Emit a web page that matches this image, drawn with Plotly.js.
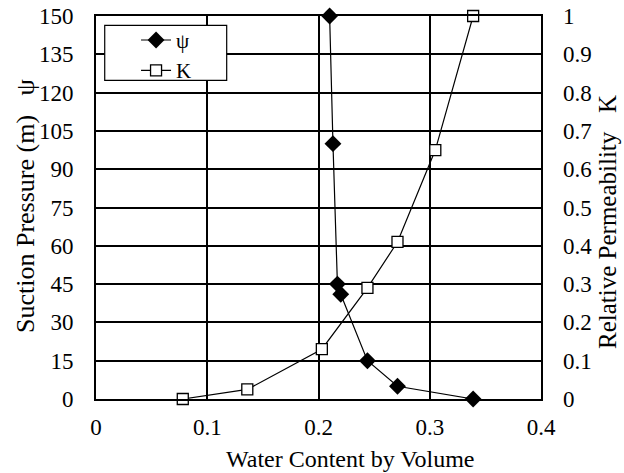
<!DOCTYPE html>
<html>
<head>
<meta charset="utf-8">
<script src="https://cdn.plot.ly/plotly-3.0.1.min.js"></script>
<style>html,body{margin:0;padding:0;background:#fff;}#chart{width:624px;height:473px;}</style>
</head>
<body>
<div id="chart"></div>
<script>
// Suction pressure series (psi)
const psiWater = [0.21, 0.213, 0.217, 0.22, 0.244, 0.271, 0.339];
const psiValues = [150, 100, 45, 41, 15, 5, 0];
// Relative permeability series (K)
const kWater = [0.078, 0.136, 0.203, 0.244, 0.271, 0.305, 0.339];
const kValues = [0, 0.025, 0.13, 0.29, 0.41, 0.65, 1];
// Tick labels
const xTicks = [0, 0.1, 0.2, 0.3, 0.4];
const xTickText = ['0', '0.1', '0.2', '0.3', '0.4'];
const yTicks = [0, 15, 30, 45, 60, 75, 90, 105, 120, 135, 150];
const y2Ticks = [0, 0.1, 0.2, 0.3, 0.4, 0.5, 0.6, 0.7, 0.8, 0.9, 1];
const y2TickText = ['0', '0.1', '0.2', '0.3', '0.4', '0.5', '0.6', '0.7', '0.8', '0.9', '1'];
// Titles
const xTitle = 'Water Content by Volume';
const yTitle = 'Suction Pressure (m)';
const yTitleSymbol = 'ψ';
const y2Title = 'Relative Permeability';
const y2TitleSymbol = 'K';

const FONT = '"Liberation Serif", "Times New Roman", Times, serif';
const NB = '\u00a0';

const traces = [
  {
    x: psiWater, y: psiValues, name: 'ψ', type: 'scatter', mode: 'lines+markers',
    line: {color: '#000', width: 1.2},
    marker: {symbol: 'diamond', size: 13, color: '#000', line: {color: '#000', width: 0}},
    yaxis: 'y', cliponaxis: false
  },
  {
    x: kWater, y: kValues, name: 'K', type: 'scatter', mode: 'lines+markers',
    line: {color: '#000', width: 1.2},
    marker: {symbol: 'square', size: 11, color: '#fff', line: {color: '#000', width: 1.3}},
    yaxis: 'y2', cliponaxis: false
  }
];

const layout = {
  width: 624, height: 473,
  margin: {l: 96, r: 83, t: 16, b: 74, pad: 0},
  paper_bgcolor: '#fff', plot_bgcolor: '#fff',
  font: {family: FONT, size: 23, color: '#000'},
  showlegend: true,
  legend: {
    x: 0.09, y: 0.99, xanchor: 'left', yanchor: 'top',
    bgcolor: 'rgba(0,0,0,0)', borderwidth: 0,
    font: {family: FONT, size: 21, color: '#000'},
    tracegroupgap: 0, itemwidth: 30
  },
  shapes: [{
    type: 'rect', xref: 'paper', yref: 'paper',
    x0: 0.0196, x1: 0.2937, y0: 0.8321, y1: 0.9757,
    fillcolor: '#fff', line: {color: '#000', width: 1.2}, layer: 'above'
  }],
  annotations: [
    {
      text: xTitle, xref: 'paper', yref: 'paper', x: 0.571, y: -0.157,
      xanchor: 'center', yanchor: 'middle', showarrow: false,
      font: {family: FONT, size: 24, color: '#000'}
    },
    {
      text: yTitle + NB + NB + NB + yTitleSymbol, xref: 'paper', yref: 'paper',
      x: (25 - 96) / 445, y: (399 - 206) / 383, textangle: -90,
      xanchor: 'center', yanchor: 'middle', showarrow: false,
      font: {family: FONT, size: 26, color: '#000'}
    },
    {
      text: y2Title + NB + NB + NB + y2TitleSymbol, xref: 'paper', yref: 'paper',
      x: (607 - 96) / 445, y: (399 - 222) / 383, textangle: -90,
      xanchor: 'center', yanchor: 'middle', showarrow: false,
      font: {family: FONT, size: 25, color: '#000'}
    }
  ],
  xaxis: {
    range: [0, 0.4], tickvals: xTicks, ticktext: xTickText,
    showgrid: true, gridcolor: '#000', gridwidth: 2,
    zeroline: false, showline: true, linecolor: '#000', linewidth: 2, mirror: true,
    ticks: '', ticklabelstandoff: 6,
    tickfont: {family: FONT, size: 23, color: '#000'}
  },
  yaxis: {
    range: [0, 150], tickvals: yTicks,
    showgrid: true, gridcolor: '#000', gridwidth: 2,
    zeroline: false, showline: true, linecolor: '#000', linewidth: 2, mirror: true,
    ticks: 'inside', ticklen: 5, tickcolor: '#000', ticklabelstandoff: 16,
    tickfont: {family: FONT, size: 23, color: '#000'}
  },
  yaxis2: {
    range: [0, 1], tickvals: y2Ticks, ticktext: y2TickText,
    overlaying: 'y', side: 'right',
    showgrid: false, zeroline: false, showline: false,
    ticks: '', ticklabelstandoff: 21,
    tickfont: {family: FONT, size: 23, color: '#000'}
  }
};

Plotly.newPlot('chart', traces, layout, {displayModeBar: false, staticPlot: true});
</script>
</body>
</html>
